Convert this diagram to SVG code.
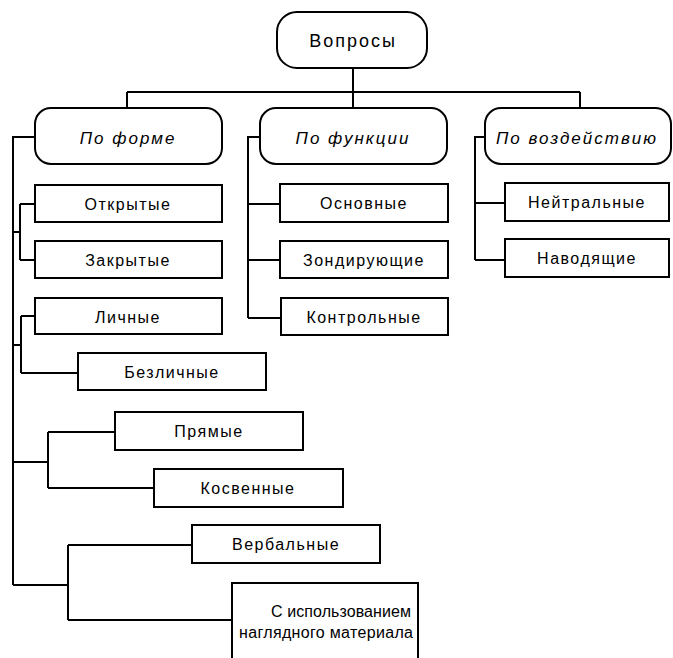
<svg xmlns="http://www.w3.org/2000/svg" width="673" height="658" viewBox="0 0 673 658">
<style>
.box{fill:#fff;stroke:#000;stroke-width:2}
.t{font-family:"Liberation Sans",Arial,sans-serif;font-size:16px;letter-spacing:1.5px;text-anchor:middle;dominant-baseline:central;fill:#000}
.h{font-style:italic;font-size:17px;letter-spacing:2px}
.r{font-size:18px;letter-spacing:2px}
.s{letter-spacing:0}
.c{fill:none;stroke:#000;stroke-width:2}
</style>
<rect width="673" height="658" fill="#fff"/>
<g id="connectors">
<path class="c" d="M353 68V107M127 92H580M127 92V107M580 92V107"/>
<path class="c" d="M35 137H13V585M13 232H20M20 204V260M20 204H35M20 260H35"/>
<path class="c" d="M13 345H21M21 316V373M21 316H35M21 373H78"/>
<path class="c" d="M13 462H48M48 432V488M48 432H115M48 488H154"/>
<path class="c" d="M13 585H68M68 545V620M68 545H192M68 620H232"/>
<path class="c" d="M260 137H248V318M248 204H280M248 260H280M248 318H281"/>
<path class="c" d="M485 137H475V260M475 203H505M475 260H505"/>
</g>
<g id="root"><rect class="box" x="277" y="12" width="150" height="56" rx="20"/><text class="t r" x="353" y="41">Вопросы</text></g>
<g id="po-forme"><rect class="box" x="35" y="108" width="187" height="56" rx="16"/><text class="t h" x="128" y="138">По форме</text></g>
<g id="po-funkcii"><rect class="box" x="260" y="108" width="187" height="56" rx="16"/><text class="t h" x="353" y="138">По функции</text></g>
<g id="po-vozdeystviyu"><rect class="box" x="485" y="108" width="186" height="56" rx="16"/><text class="t h" x="577" y="138">По воздействию</text></g>
<g id="otkrytye"><rect class="box" x="35" y="185" width="187" height="37"/><text class="t" x="128" y="204">Открытые</text></g>
<g id="zakrytye"><rect class="box" x="35" y="241" width="187" height="37"/><text class="t" x="128" y="260">Закрытые</text></g>
<g id="lichnye"><rect class="box" x="35" y="298" width="187" height="36"/><text class="t" x="128" y="317">Личные</text></g>
<g id="bezlichnye"><rect class="box" x="78" y="353" width="188" height="37"/><text class="t" x="172" y="372">Безличные</text></g>
<g id="pryamye"><rect class="box" x="115" y="412" width="188" height="38"/><text class="t" x="209" y="431">Прямые</text></g>
<g id="kosvennye"><rect class="box" x="154" y="469" width="189" height="38"/><text class="t" x="248" y="488">Косвенные</text></g>
<g id="verbalnye"><rect class="box" x="192" y="525" width="188" height="38"/><text class="t" x="286" y="544">Вербальные</text></g>
<g id="s-ispolzovaniem"><rect class="box" x="232" y="583" width="186" height="90"/><text class="t s" x="341" y="611" textLength="140" lengthAdjust="spacing">С использованием</text><text class="t s" x="326" y="632" textLength="174" lengthAdjust="spacing">наглядного материала</text></g>
<g id="osnovnye"><rect class="box" x="280" y="184" width="168" height="38"/><text class="t" x="364" y="203">Основные</text></g>
<g id="zondiruyushchie"><rect class="box" x="280" y="241" width="168" height="37"/><text class="t" x="364" y="260">Зондирующие</text></g>
<g id="kontrolnye"><rect class="box" x="281" y="298" width="167" height="37"/><text class="t" x="364" y="317">Контрольные</text></g>
<g id="neytralnye"><rect class="box" x="505" y="183" width="164" height="38"/><text class="t" x="587" y="202">Нейтральные</text></g>
<g id="navodyashchie"><rect class="box" x="505" y="239" width="164" height="38"/><text class="t" x="587" y="258">Наводящие</text></g>
</svg>
